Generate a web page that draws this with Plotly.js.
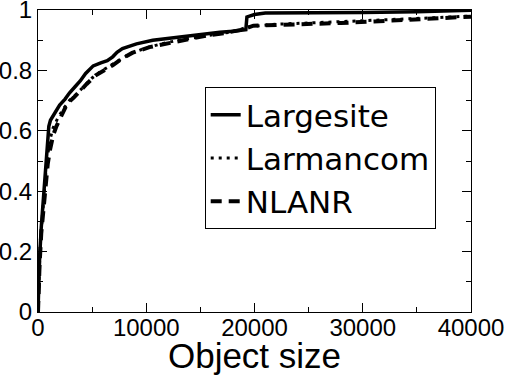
<!DOCTYPE html>
<html>
<head>
<meta charset="utf-8">
<script src="https://cdn.plot.ly/plotly-3.0.1.min.js"></script>
<style>html,body{margin:0;padding:0;background:#fff;}#chart{width:507px;height:375px;}</style>
</head>
<body>
<div id="chart"></div>
<script>
// Object size vs cumulative fraction
const largesiteX = [0, 50, 150, 300, 500, 700, 900, 1000, 1150, 1400, 1700, 2000, 2500, 2900, 3400, 3900, 4400, 4700, 5100, 5800, 6400, 6900, 7300, 7800, 8500, 9100, 10600, 12000, 13700, 15000, 16800, 18000, 19200, 19300, 20000, 21000, 25000, 30000, 35000, 39000, 40000];
const largesiteY = [0, 0.08, 0.18, 0.28, 0.38, 0.47, 0.55, 0.615, 0.635, 0.65, 0.665, 0.685, 0.705, 0.725, 0.745, 0.765, 0.79, 0.80, 0.815, 0.825, 0.832, 0.845, 0.86, 0.872, 0.882, 0.888, 0.9, 0.906, 0.915, 0.92, 0.926, 0.93, 0.935, 0.977, 0.985, 0.99, 0.99, 0.992, 0.994, 0.996, 0.999];

const larmancomX = [0, 50, 150, 300, 500, 700, 900, 1100, 1400, 1800, 2300, 2900, 3500, 4200, 5000, 5800, 6600, 7500, 8500, 10000, 12000, 14000, 16000, 18000, 19500, 22000, 25000, 28000, 31000, 34000, 37000, 40000];
const larmancomY = [0, 0.08, 0.17, 0.27, 0.37, 0.45, 0.52, 0.57, 0.61, 0.64, 0.67, 0.70, 0.72, 0.745, 0.775, 0.797, 0.815, 0.835, 0.855, 0.875, 0.893, 0.906, 0.917, 0.928, 0.945, 0.953, 0.957, 0.961, 0.966, 0.97, 0.975, 0.98];

const nlanrX = [0, 50, 150, 300, 500, 700, 900, 1100, 1400, 1700, 2100, 2700, 3300, 3800, 4500, 5300, 6100, 6900, 7800, 8700, 10300, 12000, 13700, 15500, 16800, 18900, 19900, 22000, 25000, 28000, 31000, 34000, 37000, 40000];
const nlanrY = [0, 0.07, 0.16, 0.26, 0.35, 0.43, 0.49, 0.535, 0.585, 0.615, 0.645, 0.69, 0.71, 0.73, 0.755, 0.783, 0.80, 0.817, 0.84, 0.858, 0.877, 0.89, 0.904, 0.915, 0.921, 0.935, 0.948, 0.95, 0.953, 0.957, 0.962, 0.967, 0.972, 0.978];

const seriesNames = ['Largesite', 'Larmancom', 'NLANR'];
const xTitle = 'Object size';
const xTickVals = [0, 10000, 20000, 30000, 40000];
const xTickText = ['0', '10000', '20000', '30000', '40000'];
const yTickVals = [0, 0.2, 0.4, 0.6, 0.8, 1];
const yTickText = ['0', '0.2', '0.4', '0.6', '0.8', '1'];

const FONT = 'Liberation Sans, Arial, Helvetica, sans-serif';
const LEGFONT = 'DejaVu Sans, sans-serif';

const traces = [
  {x: larmancomX, y: larmancomY, name: seriesNames[1], mode: 'lines',
   line: {color: '#000', width: 3, dash: '3px,5px'}, legendrank: 2},
  {x: nlanrX, y: nlanrY, name: seriesNames[2], mode: 'lines',
   line: {color: '#000', width: 4, dash: '11px,7px'}, legendrank: 3},
  {x: largesiteX, y: largesiteY, name: seriesNames[0], mode: 'lines',
   line: {color: '#000', width: 3.5}, legendrank: 1}
];

const axisCommon = {
  showgrid: false, zeroline: false, showline: true, linecolor: '#000', linewidth: 1,
  mirror: 'ticks', ticks: 'inside', ticklen: 9, tickwidth: 1, tickcolor: '#000',
  tickfont: {family: FONT, size: 24, color: '#000'}, automargin: false,
  tickmode: 'array', ticklabeloverflow: 'allow'
};

const layout = {
  width: 507, height: 375,
  margin: {l: 38, r: 36, t: 10, b: 63},
  paper_bgcolor: '#fff', plot_bgcolor: '#fff',
  font: {family: FONT, color: '#000'},
  xaxis: Object.assign({}, axisCommon, {
    range: [0, 40000], tickvals: xTickVals, ticktext: xTickText,
    ticklabelstandoff: -6,
    minor: {tickmode: 'linear', tick0: 0, dtick: 5000, ticks: 'inside', ticklen: 5, tickcolor: '#000'},
    title: {text: xTitle, font: {family: FONT, size: 35, color: '#000'}, standoff: 4}
  }),
  yaxis: Object.assign({}, axisCommon, {
    range: [0, 1], tickvals: yTickVals, ticktext: yTickText,
    minor: {tickmode: 'linear', tick0: 0, dtick: 0.1, ticks: 'inside', ticklen: 5, tickcolor: '#000'}
  }),
  showlegend: true,
  legend: {
    x: 0.385, y: 0.745, xanchor: 'left', yanchor: 'top',
    bgcolor: '#fff', bordercolor: '#000', borderwidth: 1,
    font: {family: LEGFONT, size: 31, color: '#000'},
    traceorder: 'normal', tracegroupgap: 0
  }
};

Plotly.newPlot('chart', traces, layout, {staticPlot: true, displayModeBar: false});
</script>
</body>
</html>
